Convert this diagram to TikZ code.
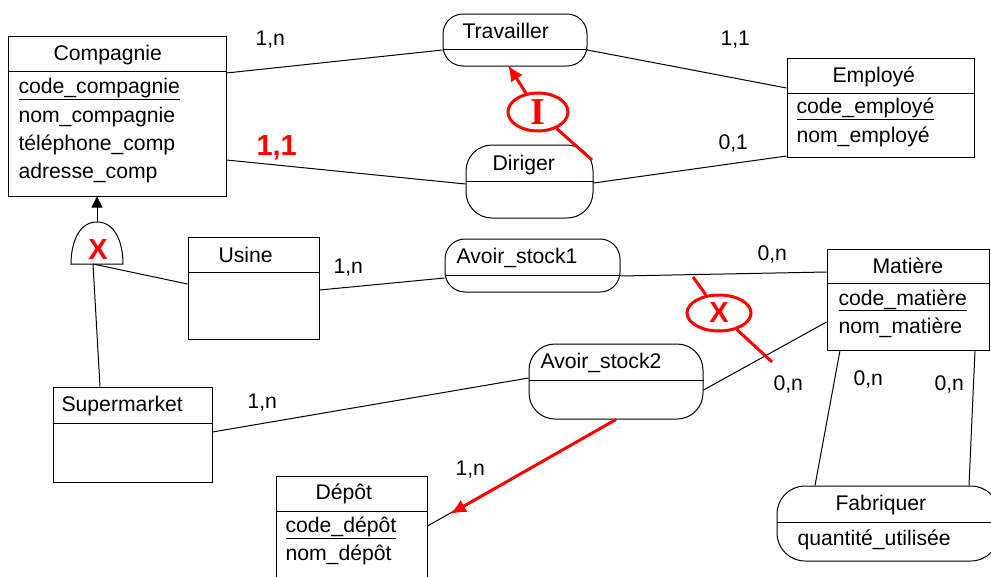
\documentclass[tikz,border=0pt]{standalone}
\usepackage{fontspec}
\setmainfont{Liberation Sans}
\newfontfamily\serifbig{Liberation Serif}
\usetikzlibrary{arrows, arrows.meta, shapes.geometric}

\tikzset{
    ent/.style={draw, rectangle, inner sep=0pt},
    asso/.style={draw, rectangle, inner sep=0pt},
    txt/.style={anchor=base west, inner sep=0pt},
    redline/.style={draw=red, line width=3pt},
    redtip/.style={-{Latex[length=16pt,width=14pt]}},
    redoval/.style={draw=red, line width=3pt, ellipse, inner sep=0pt},
    redmark/.style={text=red, font=\fontsize{29}{29}\selectfont\bfseries}
}

\begin{document}
\begin{tikzpicture}[x=1pt, y=-1pt, font=\fontsize{21.2}{25}\selectfont, line width=1pt]
    \clip (0,0) rectangle (991,576);
    \node[ent, minimum width=218pt, minimum height=160pt] (comp) at (117,116) {};
    \node[asso, rounded corners=20pt, minimum width=144pt, minimum height=52pt] (trav) at (515,40) {};
    \node[asso, rounded corners=26pt, minimum width=127pt, minimum height=73pt] (dir) at (529.5,181.5) {};
    \node[ent, minimum width=187pt, minimum height=99pt] (emp) at (880.5,107.5) {};
    \node[ent, minimum width=131pt, minimum height=102pt] (usine) at (253.5,288) {};
    \node[asso, rounded corners=20pt, minimum width=175pt, minimum height=53pt] (as1) at (532.5,265.5) {};
    \node[ent, minimum width=162pt, minimum height=101pt] (mat) at (908,299.5) {};
    \node[asso, rounded corners=26pt, minimum width=174pt, minimum height=75pt] (as2) at (616,381.5) {};
    \node[ent, minimum width=159pt, minimum height=95pt] (sup) at (132.5,434.5) {};
    \node[ent, minimum width=151pt, minimum height=110pt] (dep) at (351.5,531) {};
    \node[asso, rounded corners=28pt, minimum width=222pt, minimum height=75pt] (fab) at (888,523.5) {};

    \draw (comp.west |- 0,71) -- (comp.east |- 0,71);
    \draw (trav.west |- 0,49) -- (trav.east |- 0,49);
    \draw (dir.west |- 0,181) -- (dir.east |- 0,181);
    \draw (emp.west |- 0,93) -- (emp.east |- 0,93);
    \draw (usine.west |- 0,272) -- (usine.east |- 0,272);
    \draw (as1.west |- 0,275) -- (as1.east |- 0,275);
    \draw (mat.west |- 0,283) -- (mat.east |- 0,283);
    \draw (as2.west |- 0,380) -- (as2.east |- 0,380);
    \draw (sup.west |- 0,423) -- (sup.east |- 0,423);
    \draw (dep.west |- 0,511) -- (dep.east |- 0,511);
    \draw (fab.west |- 0,522) -- (fab.east |- 0,522);

    \node[txt] (compT) at (53,60) {Compagnie};
    \node[txt] (compA) at (18,93) {\underline{code\_compagnie}};
    \node[txt] (compB) at (18,122) {nom\_compagnie};
    \node[txt] (compC) at (18,150) {téléphone\_comp};
    \node[txt] (compD) at (18,178) {adresse\_comp};
    \node[txt] (travT) at (462,38) {Travailler};
    \node[txt] (dirT) at (492,170) {Diriger};
    \node[txt] (empT) at (832,82) {Employé};
    \node[txt] (empA) at (796,113) {\underline{code\_employé}};
    \node[txt] (empB) at (796,142) {nom\_employé};
    \node[txt] (usineT) at (218,262) {Usine};
    \node[txt] (as1T) at (456,263) {Avoir\_stock1};
    \node[txt] (matT) at (872,273) {Matière};
    \node[txt] (matA) at (838,305) {\underline{code\_matière}};
    \node[txt] (matB) at (838,333) {nom\_matière};
    \node[txt] (as2T) at (540,368) {Avoir\_stock2};
    \node[txt] (supT) at (61,411) {Supermarket};
    \node[txt] (depT) at (315,499) {Dépôt};
    \node[txt] (depA) at (285,532) {\underline{code\_dépôt}};
    \node[txt] (depB) at (285,560) {nom\_dépôt};
    \node[txt] (fabT) at (835,510) {Fabriquer};
    \node[txt] (fabA) at (797,545) {quantité\_utilisée};

    \draw (comp.east |- 0,73) -- (trav.west |- 0,50);
    \draw (trav.east |- 0,50) -- (emp.west |- 0,88);
    \draw (comp.east |- 0,160) -- (dir.west |- 0,184);
    \draw (dir.east |- 0,183) -- (emp.west |- 0,156);
    \draw (usine.east |- 0,290) -- (as1.west |- 0,278);
    \draw (as1.east |- 0,276) -- (mat.west |- 0,272);
    \draw (sup.east |- 0,432) -- (as2.west |- 0,378);
    \draw (as2.east |- 0,390) -- (mat.west |- 0,322);
    \draw (mat.south -| 840,0) -- (fab.north -| 815,0);
    \draw (mat.south -| 975,0) -- (fab.north -| 969,0);
    \draw (dep.east |- 0,526) -- (as2.south);

    \node[txt] (c1) at (255,45) {1,n};
    \node[txt] (c2) at (720,45) {1,1};
    \node[txt, text=red, font=\fontsize{29}{29}\selectfont\bfseries] (c3) at (256,155) {1,1};
    \node[txt] (c4) at (718,149) {0,1};
    \node[txt] (c5) at (333,273) {1,n};
    \node[txt] (c6) at (757,260) {0,n};
    \node[txt] (c7) at (247,408) {1,n};
    \node[txt] (c8) at (773,390) {0,n};
    \node[txt] (c9) at (853,385) {0,n};
    \node[txt] (c10) at (934,390) {0,n};
    \node[txt] (c11) at (455,475) {1,n};

    \coordinate (isaTop) at (97,222);
    \coordinate (isaBase) at (93,264);
    \draw (71,264) to[out=90, in=180] (isaTop) to[out=0, in=90] (123,264) -- cycle;
    \draw[-{Triangle[length=11pt,width=11pt]}] (isaTop) -- (comp.south -| isaTop);
    \node[redmark, anchor=base, inner sep=0pt] (isaX) at (98,259) {X};
    \draw (isaBase) -- (usine.west |- 0,284);
    \draw (isaBase) -- (sup.north -| 100,0);

    \node[redoval, minimum width=60pt, minimum height=38pt,
        label={[redmark, font=\serifbig\fontsize{38}{38}\selectfont\bfseries]center:I}] (ovI) at (538,112) {};
    \coordinate (dirI) at (592,160);
    \coordinate (travI) at (508,65);
    \draw[redline] (dirI) -- (ovI);
    \draw[redline, redtip] (ovI) -- (travI);

    \node[redoval, minimum width=64pt, minimum height=36pt,
        label={[redmark]center:X}] (ovX) at (719,313) {};
    \coordinate (xA) at (693,277);
    \coordinate (xB) at (772,362);
    \draw[redline] (xA) -- (ovX) -- (xB);

    \coordinate (depI) at (450,514);
    \draw[redline, redtip] (as2.south) -- (depI);
\end{tikzpicture}
\end{document}
